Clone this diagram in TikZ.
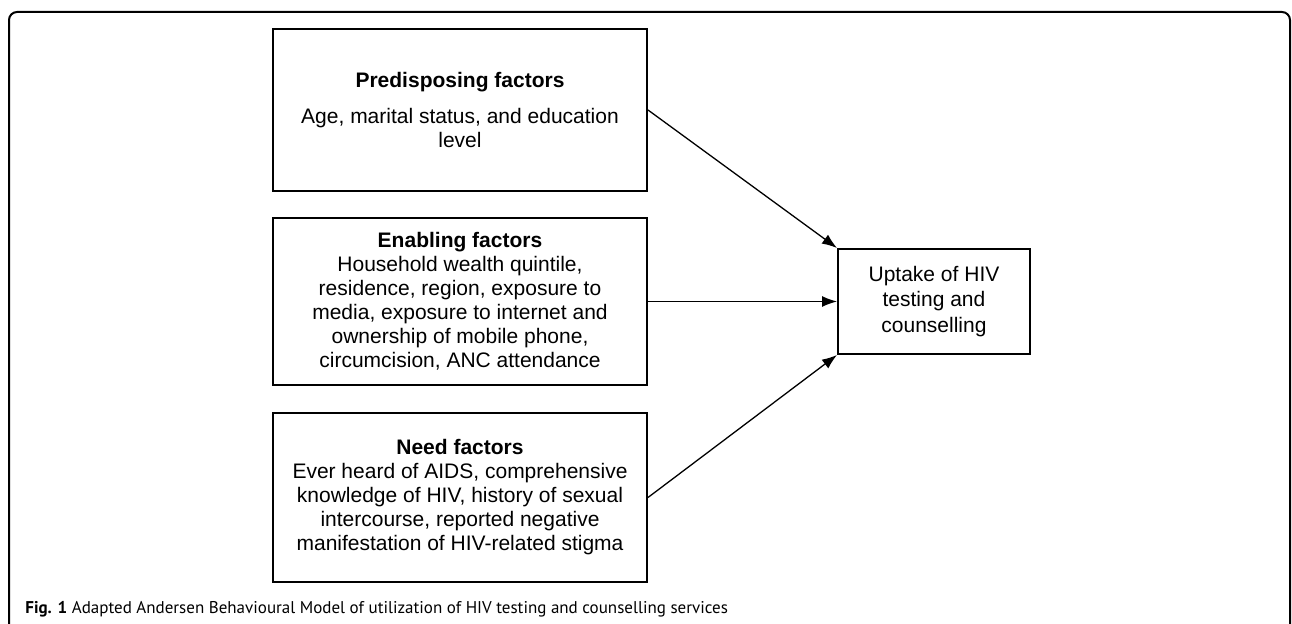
\documentclass[tikz,border=0pt]{standalone}
\usepackage{fontspec}
\setmainfont{Liberation Sans}
\newfontfamily\capfont{PT Sans}
\usetikzlibrary{arrows.meta}
\tikzset{
    factor/.style={draw, line width=1pt, minimum width=187pt, align=center, inner sep=0pt,
        font=\fontsize{10.5}{12}\selectfont}, % boxes of the three factor groups
    link/.style={line width=0.65pt, -{Latex[length=7.5pt, width=5.5pt]}} % arrows into the outcome
}
\begin{document}
\begin{tikzpicture}[x=0.5pt, y=-0.5pt]
            \clip (0,0) rectangle (1292,624);
            \draw[line width=1pt, rounded corners=4pt] (9,660) -- (9,12) -- (1290,12) -- (1290,660);

            \node[factor, minimum height=81pt] (pre) at (460,110) {\textbf{Predisposing factors}\\[6pt]
                Age, marital status, and education\\level};
            \node[factor, minimum height=83.5pt] (ena) at (460,301.5) {\textbf{Enabling factors}\\
                Household wealth quintile,\\residence, region, exposure to\\media, exposure to internet and\\
                ownership of mobile phone,\\circumcision, ANC attendance};
            \node[factor, minimum height=84.5pt] (need) at (460,497.5) {\textbf{Need factors}\\
                Ever heard of AIDS, comprehensive\\knowledge of HIV, history of sexual\\intercourse, reported negative\\
                manifestation of HIV-related stigma};
            \node[factor, minimum width=96pt, minimum height=52.5pt, font=\fontsize{10.5}{12.6}\selectfont] (out) at (934,301.5)
                {Uptake of HIV\\testing and\\counselling};

            \draw[link] (pre.east) -- (out.north west);
            \draw[link] (ena.east) -- (out.west);
            \draw[link] (need.east) -- (out.south west);

            \node[anchor=base west, inner sep=0pt, font=\capfont\fontsize{8.5}{10}\selectfont] (cap) at (25,614)
                {\textbf{Fig. 1} Adapted Andersen Behavioural Model of utilization of HIV testing and counselling services};
        \end{tikzpicture}
\end{document}
